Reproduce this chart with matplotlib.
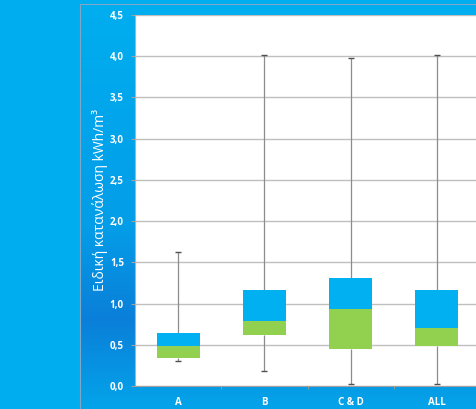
import numpy as np
import matplotlib
matplotlib.use("Agg")
import matplotlib.pyplot as plt
from matplotlib.patches import Rectangle
from matplotlib.colors import LinearSegmentedColormap

plt.rcParams['font.family'] = ['Open Sans', 'DejaVu Sans']

# data
categories = ['A', 'B', 'C & D', 'ALL']
whisker_low = [0.30, 0.18, 0.02, 0.02]
q1 = [0.34, 0.615, 0.445, 0.49]
median = [0.485, 0.79, 0.93, 0.70]
q3 = [0.64, 1.17, 1.31, 1.17]
whisker_high = [1.62, 4.02, 3.98, 4.02]
y_ticks = np.arange(0, 4.51, 0.5)

light_blue = '#00AEEF'
box_blue = '#00B0F0'
box_green = '#92D050'

fig = plt.figure(figsize=(4.77, 4.09), dpi=100)
fig.patch.set_facecolor(light_blue)

# gradient panel behind the chart
W, H = 477, 409
x0, y0 = 80 / W, 1 - 4 / H
grad_ax = fig.add_axes([x0, 0, 1 - x0, y0])
grad_ax.set_axis_off()
cmap = LinearSegmentedColormap.from_list('g', [(0, '#04A4EA'), (0.22, '#0A7FD9'),
                                               (0.45, '#049DE8'), (1.0, light_blue)])
grad = np.linspace(0, 1, 256).reshape(-1, 1)
grad_ax.imshow(grad, aspect='auto', cmap=cmap, origin='lower', extent=[0, 1, 0, 1])
fig.add_artist(Rectangle((x0, -0.1), 1.2, y0 + 0.1, transform=fig.transFigure,
                         fill=False, edgecolor='#7FA8C8', linewidth=0.8))

ax = fig.add_axes([135 / W, 1 - 386 / H, 345 / W, 371 / H])
ax.set_facecolor('white')
x = np.arange(len(categories))
width = 0.5

ax.vlines(x, whisker_low, q1, color='#8C8C8C', linewidth=0.9, zorder=2)
ax.vlines(x, q3, whisker_high, color='#8C8C8C', linewidth=0.9, zorder=2)
ax.hlines(whisker_low, x - 0.035, x + 0.035, color='#505050', linewidth=1, zorder=2)
ax.hlines(whisker_high, x - 0.035, x + 0.035, color='#505050', linewidth=1, zorder=2)

lower = np.array(median) - np.array(q1)
upper = np.array(q3) - np.array(median)
ax.bar(x, lower, width, bottom=q1, color=box_green, zorder=3)
ax.bar(x, upper, width, bottom=median, color=box_blue, zorder=3)

ax.set_xlim(-0.5, len(categories) - 0.5)
ax.set_ylim(0, 4.5)
ax.set_yticks(y_ticks)
ax.set_yticklabels([('%.1f' % v).replace('.', ',') for v in y_ticks],
                   color='white', fontsize=7, fontweight='bold')
ax.set_xticks(x)
ax.set_xticklabels(categories, color='white', fontsize=7, fontweight='bold')
ax.set_xticks(np.arange(0.5, len(categories) - 0.5, 1), minor=True)
ax.tick_params(axis='x', which='major', length=0, pad=8)
ax.tick_params(axis='x', which='minor', length=2, color='#A0A0A0')
ax.tick_params(axis='y', length=3, color='#A0A0A0', pad=5)
ax.grid(axis='y', color='#BFBFBF', linewidth=1)
ax.set_axisbelow(True)
for s in ['top', 'right']:
    ax.spines[s].set_visible(False)
ax.spines['left'].set_color('#B0B0B0')
ax.spines['bottom'].set_color('#A0A0A0')

fig.text(100 / W, 1 - 200 / H, 'Ειδική κατανάλωση kWh/m³', rotation=90,
         color='white', fontsize=10, ha='center', va='center')

fig.savefig('out.png', dpi=100, facecolor=fig.get_facecolor())
